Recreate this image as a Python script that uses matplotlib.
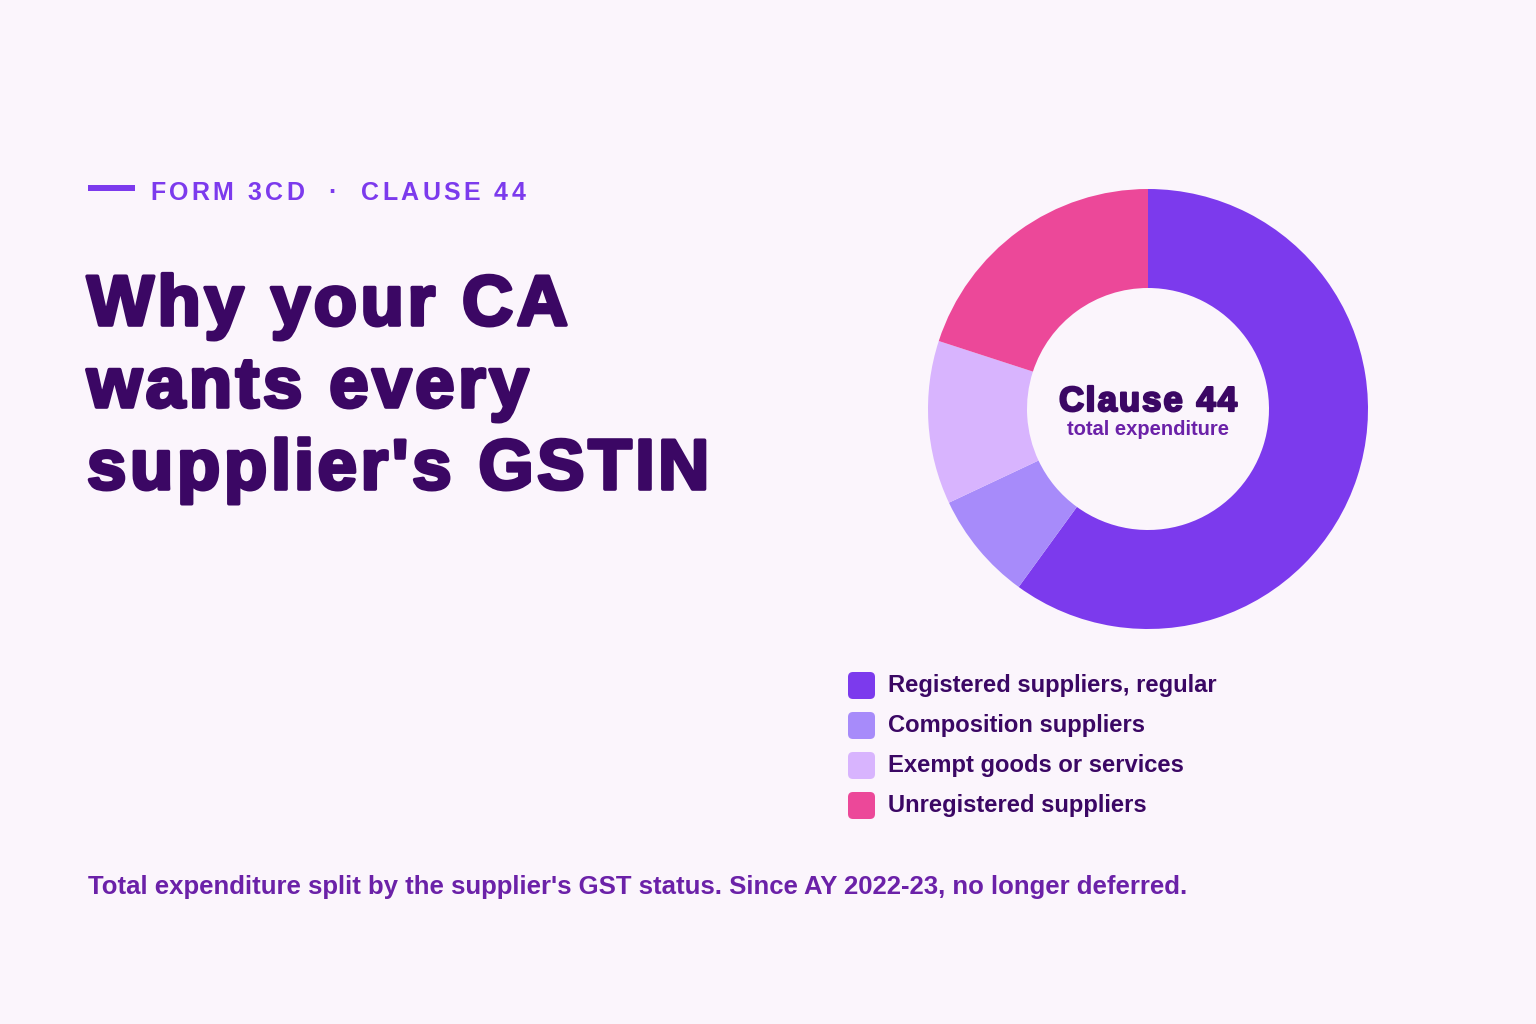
import matplotlib
matplotlib.use("Agg")
import matplotlib.pyplot as plt
from matplotlib.patches import FancyBboxPatch, Rectangle
import matplotlib.patheffects as pe

categories = ["Registered suppliers, regular", "Composition suppliers",
              "Exempt goods or services", "Unregistered suppliers"]
shares = [60, 8, 12, 20]
colors = ["#7c3aed", "#a78bfa", "#d8b4fe", "#ec4899"]

eyebrow = "FORM 3CD  ·  CLAUSE 44"
title_lines = ["Why your CA", "wants every", "supplier's GSTIN"]
center_title = "Clause 44"
center_sub = "total expenditure"
footnote = "Total expenditure split by the supplier's GST status. Since AY 2022-23, no longer deferred."

BG = "#fbf5fc"
DARK = "#3b0764"
PURPLE = "#7c3aed"
MID = "#6b21a8"
FONT = "Liberation Sans"

W, H = 1536, 1024
fig = plt.figure(figsize=(W / 100, H / 100), dpi=100, facecolor=BG)

ov = fig.add_axes([0, 0, 1, 1])
ov.set_xlim(0, W)
ov.set_ylim(H, 0)
ov.axis("off")
ov.set_facecolor("none")
renderer = fig.canvas.get_renderer()


def measure(s, **kw):
    t = ov.text(0, 0, s, **kw)
    w = t.get_window_extent(renderer=renderer).width
    t.remove()
    return w


def tracked(x, y, s, spacing, ha="left", **kw):
    widths = []
    sp = measure("x x", **kw) - measure("xx", **kw)
    for ch in s:
        widths.append(sp if ch == " " else measure(ch, **kw))
    total = sum(widths) + spacing * (len(s) - 1)
    if ha == "center":
        x -= total / 2
    for ch, w in zip(s, widths):
        if ch != " ":
            ov.text(x, y, ch, va="baseline", ha="left", **kw)
        x += w + spacing


# eyebrow bar
ov.add_patch(Rectangle((88, 185), 47, 6, color=PURPLE, lw=0))
tracked(150, 200, eyebrow, 3.4, fontsize=18, fontweight="bold", family=FONT,
        color=PURPLE)

# title
for i, line in enumerate(title_lines):
    tracked(87, 325 + i * 82, line, 3.6, fontsize=51, fontweight="bold",
            family=FONT, color=DARK,
            path_effects=[pe.withStroke(linewidth=2.6, foreground=DARK)])

# footnote
ov.text(88, 894, footnote, fontsize=18.55, fontweight="bold", family=FONT,
        color=MID, va="baseline", ha="left")

# legend
for i, (lab, c) in enumerate(zip(categories, colors)):
    yc = 685 + i * 40
    ov.add_patch(FancyBboxPatch((848, yc - 13), 27, 27,
                                boxstyle="round,pad=0,rounding_size=5",
                                fc=c, ec="none"))
    ov.text(888, yc + 7, lab, fontsize=17.1, fontweight="bold", family=FONT,
            color=DARK, va="baseline", ha="left")

# donut
cx, cy, R = 1148, 409, 220
ax = fig.add_axes([(cx - R) / W, (H - cy - R) / H, 2 * R / W, 2 * R / H])
ax.set_facecolor("none")
ax.pie(shares, colors=colors, startangle=90, counterclock=False, radius=1,
       wedgeprops=dict(width=0.45, edgecolor="none"))
ax.set_xlim(-1, 1)
ax.set_ylim(-1, 1)
ax.set_aspect("equal")
ax.axis("off")

tracked(cx, 411, center_title, 2.0, ha="center", fontsize=25, fontweight="bold",
        family=FONT, color=DARK,
        path_effects=[pe.withStroke(linewidth=1.6, foreground=DARK)])
ov.text(cx, 435, center_sub, fontsize=14.5, fontweight="bold", family=FONT,
        color=MID, va="baseline", ha="center")

fig.savefig("out.png", dpi=100, facecolor=BG)
